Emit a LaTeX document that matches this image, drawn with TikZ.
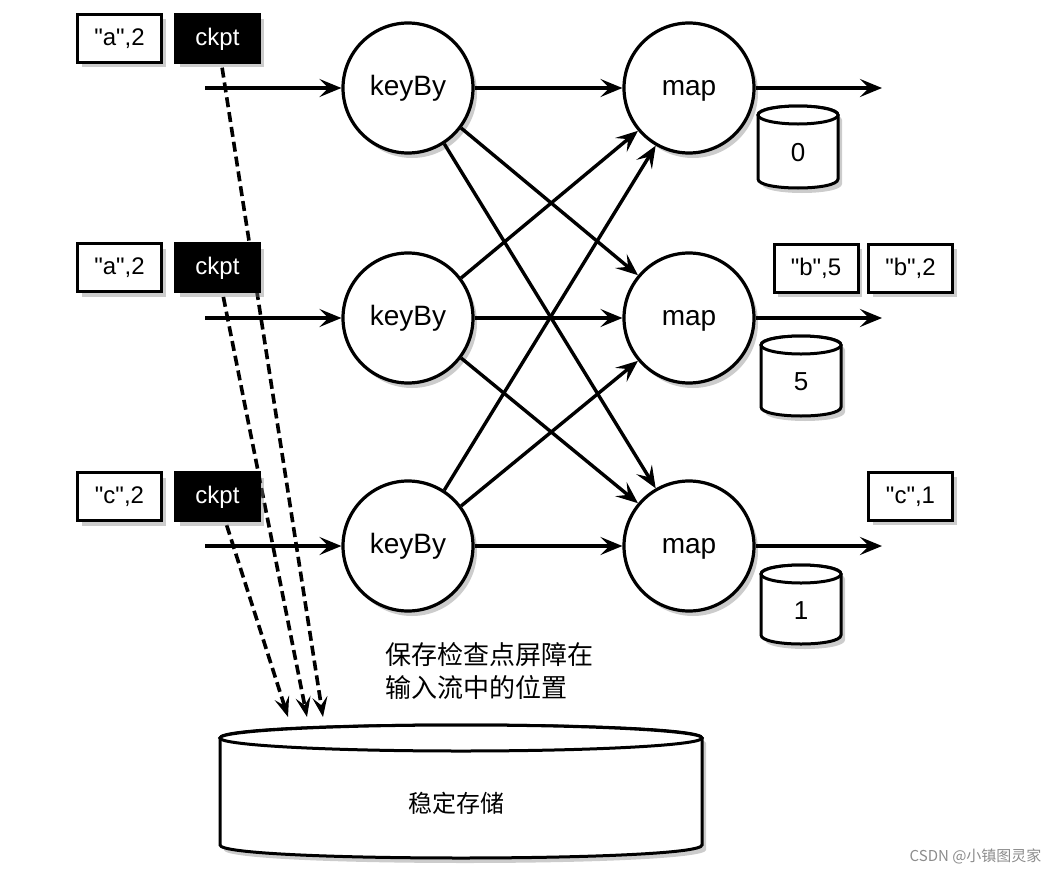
\documentclass[tikz,border=0pt]{standalone}
\usepackage{fontspec}
\setmainfont{Liberation Sans}[Ligatures=TeXOff]
\newfontfamily\cjk{Noto Sans CJK SC}
\usetikzlibrary{arrows.meta,shadows}
\newcommand\mycyl[5]{% cx, top centre y, bottom centre y, rx, ry
  \filldraw[cylline,drop shadow={opacity=0.4,shadow xshift=4pt,shadow yshift=-5pt}]
    ({#1-#4},#2) -- ({#1-#4},#3)
    .. controls ({#1-#4},{#3+1.333*#5}) and ({#1+#4},{#3+1.333*#5}) .. ({#1+#4},#3)
    -- ({#1+#4},#2)
    .. controls ({#1+#4},{#2-1.333*#5}) and ({#1-#4},{#2-1.333*#5}) .. cycle;
  \draw[cylline] (#1,#2) ellipse [x radius=#4, y radius=#5];
}
\begin{document}
\begin{tikzpicture}[x=1pt,y=-1pt,
  shd/.style={drop shadow={opacity=0.4,shadow xshift=4pt,shadow yshift=-5pt}},
  opnode/.style={circle,draw,line width=3.2pt,fill=white,minimum size=130pt,inner sep=0pt,
    font=\fontsize{28}{30}\selectfont,text height=20pt,text depth=6pt,shd},
  recbox/.style={draw,line width=3pt,fill=white,minimum width=84pt,minimum height=48pt,
    inner sep=0pt,font=\fontsize{24}{26}\selectfont,text height=17pt,text depth=3pt,shd},
  ckbox/.style={recbox,fill=black,text=white},
  cylline/.style={line width=3pt,fill=white},
  numlbl/.style={font=\fontsize{26}{28}\selectfont},
  arr/.style={line width=3.4pt,-{Stealth[length=22pt,width=18pt,inset=9pt]}},
  dsh/.style={line width=3.6pt,dash pattern=on 10pt off 5pt,-{Stealth[length=20pt,width=15pt,inset=8pt]}},
  cjktxt/.style={font=\cjk\fontsize{26}{30}\selectfont}
]
\useasboundingbox (0,0) rectangle (1055,873);

% storage cylinder
\mycyl{461}{738}{845}{241}{13}
\node[font=\cjk\fontsize{24}{28}\selectfont] (store) at (456,803) {稳定存储};

% dash end coordinates
\coordinate (t1) at (323,717);
\coordinate (t2) at (307,717);
\coordinate (t3) at (288,717);
\coordinate (c1) at (217.5,38);
\coordinate (c2) at (217.5,267.5);
\coordinate (c3) at (217.5,496.5);
\draw[dsh] (c1) -- (t1);
\draw[dsh] (c2) -- (t2);
\draw[dsh] (c3) -- (t3);

% input boxes
\node[recbox] (a1) at (119.5,38) {"a",2};
\node[ckbox] (ck1) at (217.5,38) {ckpt};
\node[recbox] (a2) at (119.5,267.5) {"a",2};
\node[ckbox] (ck2) at (217.5,267.5) {ckpt};
\node[recbox] (a3) at (119.5,496.5) {"c",2};
\node[ckbox] (ck3) at (217.5,496.5) {ckpt};

% operators
\node[opnode] (k1) at (408,88) {keyBy};
\node[opnode] (k2) at (408,318) {keyBy};
\node[opnode] (k3) at (408,546) {keyBy};
\node[opnode] (m1) at (689,88) {map};
\node[opnode] (m2) at (689,318) {map};
\node[opnode] (m3) at (689,546) {map};

% input arrows
\coordinate (i1) at (205,88);
\coordinate (i2) at (205,318);
\coordinate (i3) at (205,546);
\draw[arr] (i1) -- (k1);
\draw[arr] (i2) -- (k2);
\draw[arr] (i3) -- (k3);

% keyBy -> map
\draw[arr] (k1) -- (m1);
\draw[arr] (k2) -- (m2);
\draw[arr] (k3) -- (m3);
\draw[arr] (k1.-37) -- (m2.140);
\draw[arr] (k1.-57) -- (m3.120);
\draw[arr] (k2.37) -- (m1.220);
\draw[arr] (k2.-37) -- (m3.140);
\draw[arr] (k3.57) -- (m1.240);
\draw[arr] (k3.37) -- (m2.220);

% outputs
\coordinate (o1) at (882,88);
\coordinate (o2) at (882,318);
\coordinate (o3) at (882,546);
\draw[arr] (m1) -- (o1);
\draw[arr] (m2) -- (o2);
\draw[arr] (m3) -- (o3);

\node[recbox] (b5) at (816,268) {"b",5};
\node[recbox] (b2) at (910.5,268) {"b",2};
\node[recbox] (c1o) at (910.5,496) {"c",1};

% state cylinders
\mycyl{798}{115}{179}{40}{9}
\node[numlbl] (s0) at (798,153) {0};
\mycyl{801}{345}{407}{40}{9}
\node[numlbl] (s5) at (801,382) {5};
\mycyl{801}{574}{635}{40}{9}
\node[numlbl] (s1) at (801,611) {1};

% annotation
\node[cjktxt,anchor=west] (ann1) at (382,655) {保存检查点屏障在};
\node[cjktxt,anchor=west] (ann2) at (382,688) {输入流中的位置};

% watermark
\node[font=\cjk\fontsize{15}{17}\selectfont,text=black!45,anchor=east] (wm) at (1045,856) {CSDN @小镇图灵家};
\end{tikzpicture}
\end{document}
